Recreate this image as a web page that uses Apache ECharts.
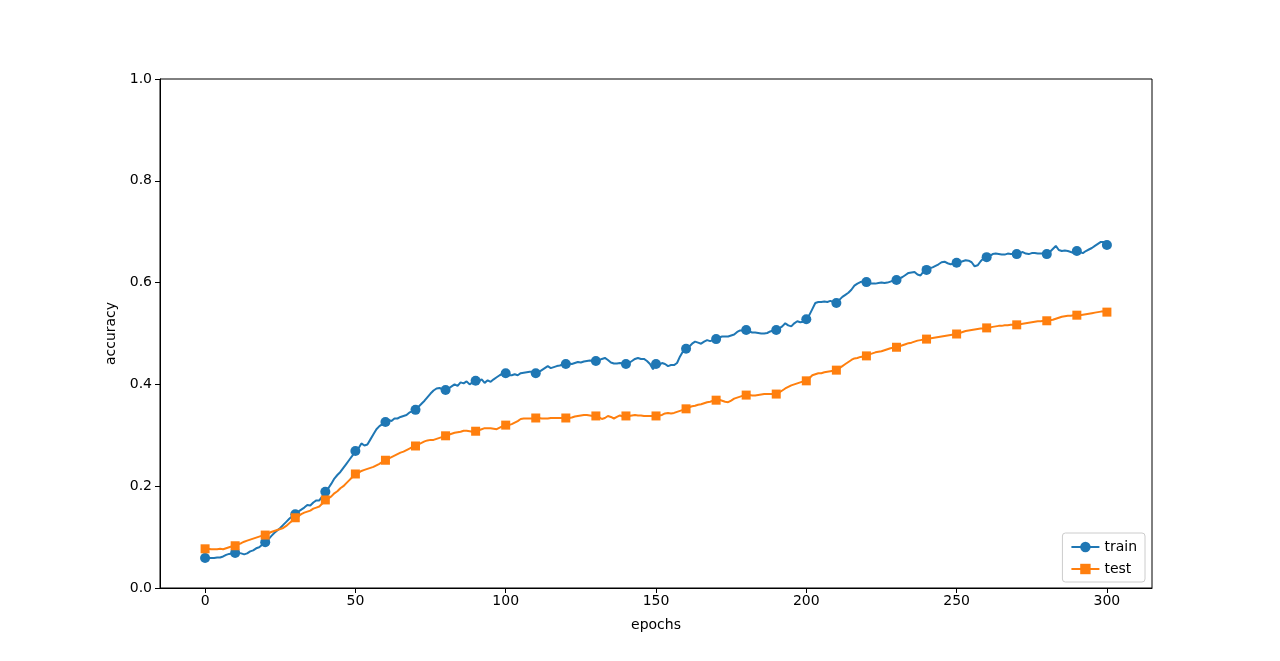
<!DOCTYPE html>
<html>
<head>
<meta charset="utf-8">
<script src="https://cdn.jsdelivr.net/npm/echarts@6/dist/echarts.min.js"></script>
<style>html,body{margin:0;padding:0;background:#fff;}#c{width:1280px;height:661px;}</style>
</head>
<body>
<div id="c"></div>
<script>
// accuracy per epoch (0..300)
const trainAcc = [
  .059,.059,.059,.059,.060,.060,.062,.065,.067,.068,
  .069,.069,.068,.066,.068,.072,.074,.078,.080,.085,
  .090,.095,.102,.108,.113,.118,.124,.130,.136,.141,
  .145,.150,.154,.158,.163,.162,.168,.172,.172,.180,
  .189,.196,.205,.215,.222,.228,.236,.244,.252,.260,
  .269,.274,.284,.280,.282,.292,.302,.312,.318,.322,
  .326,.330,.328,.333,.333,.336,.338,.340,.345,.347,
  .350,.356,.362,.368,.375,.382,.388,.392,.393,.390,
  .389,.392,.396,.400,.397,.404,.402,.406,.400,.404,
  .407,.405,.410,.403,.408,.405,.410,.414,.418,.421,
  .422,.418,.418,.420,.418,.422,.423,.424,.425,.425,
  .422,.424,.428,.432,.436,.432,.434,.436,.437,.439,
  .440,.441,.440,.442,.444,.443,.445,.446,.447,.446,
  .446,.447,.450,.452,.448,.443,.441,.441,.442,.441,
  .440,.442,.446,.450,.452,.450,.450,.446,.440,.430,
  .440,.438,.442,.440,.436,.438,.438,.442,.455,.465,
  .470,.474,.480,.484,.482,.480,.484,.487,.485,.487,
  .489,.492,.494,.494,.494,.496,.498,.503,.506,.506,
  .507,.504,.502,.502,.501,.500,.500,.501,.504,.506,
  .507,.510,.514,.520,.516,.514,.520,.524,.522,.523,
  .528,.536,.548,.560,.562,.562,.563,.562,.564,.562,
  .560,.566,.572,.576,.580,.586,.594,.598,.601,.602,
  .601,.598,.598,.598,.599,.600,.599,.600,.602,.604,
  .605,.608,.611,.615,.619,.620,.621,.616,.614,.622,
  .625,.628,.630,.633,.636,.640,.641,.638,.636,.637,
  .639,.640,.642,.644,.643,.640,.632,.634,.642,.648,
  .650,.652,.656,.657,.656,.655,.655,.657,.656,.656,
  .656,.658,.660,.657,.656,.658,.658,.657,.657,.657,
  .656,.660,.666,.672,.664,.662,.663,.662,.660,.658,
  .662,.660,.658,.662,.665,.668,.672,.676,.680,.680,
  .674
];
const testAcc = [
  .077,.077,.076,.076,.076,.077,.076,.078,.080,.082,
  .083,.086,.088,.091,.093,.095,.097,.099,.101,.103,
  .104,.107,.110,.112,.114,.116,.118,.122,.127,.132,
  .138,.141,.145,.148,.150,.152,.156,.158,.160,.166,
  .173,.176,.180,.186,.190,.196,.200,.206,.212,.218,
  .224,.226,.230,.232,.234,.236,.238,.241,.244,.248,
  .251,.254,.257,.260,.263,.266,.268,.271,.274,.277,
  .279,.282,.285,.288,.290,.291,.291,.293,.295,.297,
  .299,.301,.303,.305,.306,.307,.309,.309,.308,.307,
  .308,.310,.312,.314,.314,.314,.313,.312,.315,.318,
  .320,.320,.322,.325,.328,.332,.333,.333,.333,.333,
  .334,.334,.333,.333,.333,.334,.334,.334,.334,.334,
  .334,.334,.335,.337,.338,.339,.340,.340,.339,.338,
  .338,.336,.332,.334,.338,.336,.333,.336,.339,.337,
  .338,.338,.339,.340,.339,.339,.338,.338,.338,.338,
  .338,.339,.340,.343,.344,.343,.344,.346,.348,.350,
  .352,.355,.357,.358,.360,.361,.363,.365,.366,.368,
  .369,.370,.368,.366,.365,.368,.372,.374,.376,.378,
  .379,.379,.378,.378,.379,.380,.381,.381,.381,.381,
  .381,.384,.388,.392,.395,.398,.400,.402,.404,.406,
  .407,.412,.418,.420,.422,.422,.424,.425,.426,.427,
  .428,.432,.436,.440,.444,.448,.451,.452,.454,.455,
  .456,.459,.461,.463,.464,.465,.467,.469,.471,.472,
  .473,.475,.477,.479,.481,.482,.484,.486,.487,.488,
  .489,.490,.491,.492,.493,.494,.495,.496,.497,.498,
  .499,.501,.503,.505,.506,.507,.508,.509,.510,.510,
  .511,.512,.513,.514,.515,.515,.516,.516,.517,.517,
  .517,.518,.519,.520,.521,.522,.523,.524,.524,.525,
  .525,.526,.527,.529,.531,.533,.534,.535,.535,.536,
  .536,.536,.537,.538,.539,.540,.541,.542,.543,.543,
  .542
];
const xTicks = [0, 50, 100, 150, 200, 250, 300];
const seriesNames = ['train', 'test'];
const markEvery = 10;

const toPairs = arr => arr.map((v, i) => [i, v]);
const font = 'DejaVu Sans';

const chart = echarts.init(document.getElementById('c'), null, {renderer: 'canvas'});
chart.setOption({
  animation: false,
  backgroundColor: '#fff',
  grid: {left: 160, right: 128, top: 79, bottom: 73, show: true, borderColor: '#000', borderWidth: 1, containLabel: false},
  xAxis: {
    type: 'value', min: -15, max: 315,
    name: 'epochs', nameLocation: 'middle', nameGap: 30,
    nameTextStyle: {fontFamily: font, fontSize: 14, color: '#000'},
    axisLine: {show: true, onZero: false, lineStyle: {color: '#000', width: 1}},
    axisTick: {show: true, length: 5, lineStyle: {color: '#000'}, customValues: xTicks},
    axisLabel: {fontFamily: font, fontSize: 14, color: '#000', margin: 6, customValues: xTicks},
    splitLine: {show: false}
  },
  yAxis: {
    type: 'value', min: 0, max: 1, interval: 0.2,
    name: 'accuracy', nameLocation: 'middle', nameGap: 36, nameRotate: 90,
    nameTextStyle: {fontFamily: font, fontSize: 14, color: '#000'},
    axisLine: {show: true, onZero: false, lineStyle: {color: '#000', width: 1}},
    axisTick: {show: true, length: 5, lineStyle: {color: '#000'}},
    axisLabel: {fontFamily: font, fontSize: 14, color: '#000', margin: 8, formatter: v => v.toFixed(1)},
    splitLine: {show: false}
  },
  legend: {
    right: 135, bottom: 79, orient: 'vertical',
    data: seriesNames,
    itemWidth: 28, itemHeight: 13, itemGap: 8,
    padding: [7, 8, 6, 8],
    borderColor: '#cccccc', borderWidth: 1, borderRadius: 3,
    backgroundColor: 'rgba(255,255,255,0.8)',
    textStyle: {fontFamily: font, fontSize: 14, color: '#000'}
  },
  series: [
    {
      name: seriesNames[0], type: 'line', data: toPairs(trainAcc),
      symbol: 'circle', showAllSymbol: true,
      symbolSize: (v, p) => (p.dataIndex % markEvery === 0 ? 10 : 0),
      lineStyle: {color: '#1f77b4', width: 2}, itemStyle: {color: '#1f77b4'},
      emphasis: {disabled: true}, z: 2
    },
    {
      name: seriesNames[1], type: 'line', data: toPairs(testAcc),
      symbol: 'rect', showAllSymbol: true,
      symbolSize: (v, p) => (p.dataIndex % markEvery === 0 ? 9 : 0),
      lineStyle: {color: '#ff7f0e', width: 2}, itemStyle: {color: '#ff7f0e'},
      emphasis: {disabled: true}, z: 3
    }
  ]
});
</script>
</body>
</html>
